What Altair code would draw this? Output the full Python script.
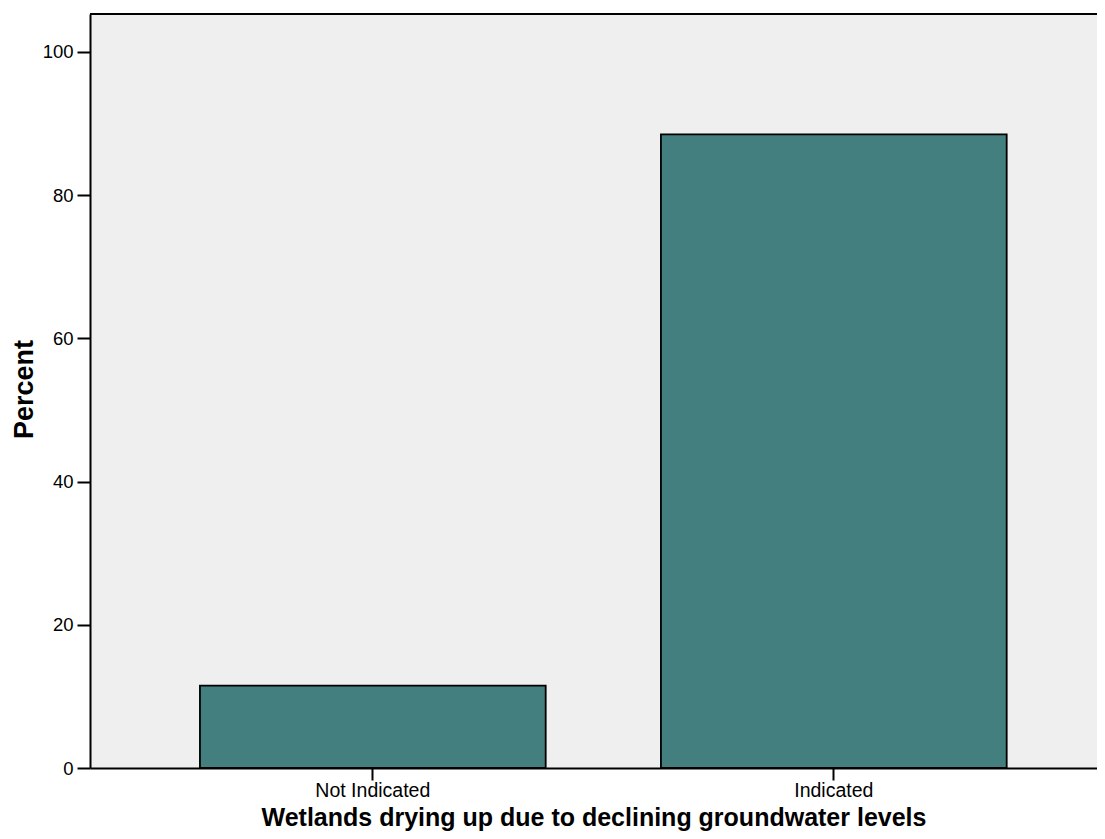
import altair as alt
import pandas as pd

categories = ["Not Indicated", "Indicated"]
percents = [11.5, 88.5]
y_ticks = [0, 20, 40, 60, 80, 100]

df = pd.DataFrame({"cat": categories, "pct": percents})

W, H = 1007, 754
FONT = "Liberation Sans"

bars = alt.Chart(df).mark_bar(
    color="#427f7e", stroke="#000000", strokeWidth=1.8
).encode(
    x=alt.X(
        "cat:N", sort=categories,
        scale=alt.Scale(paddingInner=0.25, paddingOuter=0.2172, align=0.549),
        axis=alt.Axis(
            title="Wetlands drying up due to declining groundwater levels",
            labelAngle=0, labelFontSize=19.5, labelColor="#000000", labelFont=FONT,
            labelPadding=1, tickSize=12, tickWidth=2, tickColor="#000000",
            domainColor="#000000", domainWidth=2,
            titleFont=FONT, titleFontSize=25, titleFontWeight="bold", titleColor="#000000",
            titleY=57.5, titleBaseline="alphabetic",
        ),
    ),
    y=alt.Y(
        "pct:Q",
        scale=alt.Scale(domain=[0, 105.3], nice=False, zero=True),
        axis=alt.Axis(
            title="Percent", values=y_ticks, grid=False,
            labelFontSize=18.5, labelColor="#000000", labelFont=FONT,
            labelPadding=4, tickSize=13, tickWidth=2, tickColor="#000000",
            domainColor="#000000", domainWidth=2,
            titleFont=FONT, titleFontSize=27, titleFontWeight="bold", titleColor="#000000",
            titleX=-58, titleY=375, titleBaseline="alphabetic", titleAngle=-90,
        ),
    ),
)

top_border = alt.Chart(df).mark_rule(color="#000000", strokeWidth=2).encode(
    x=alt.value(0), x2=alt.value(W + 8), y=alt.value(0)
)

chart = alt.layer(bars, top_border).properties(
    width=W, height=H,
    padding={"left": 82, "top": 6, "right": 0, "bottom": 63},
    autosize=alt.AutoSizeParams(type="none"),
).configure_view(
    fill="#efefef", stroke=None
)

chart.save("out.html", embed_options={"renderer": "svg", "actions": False})
